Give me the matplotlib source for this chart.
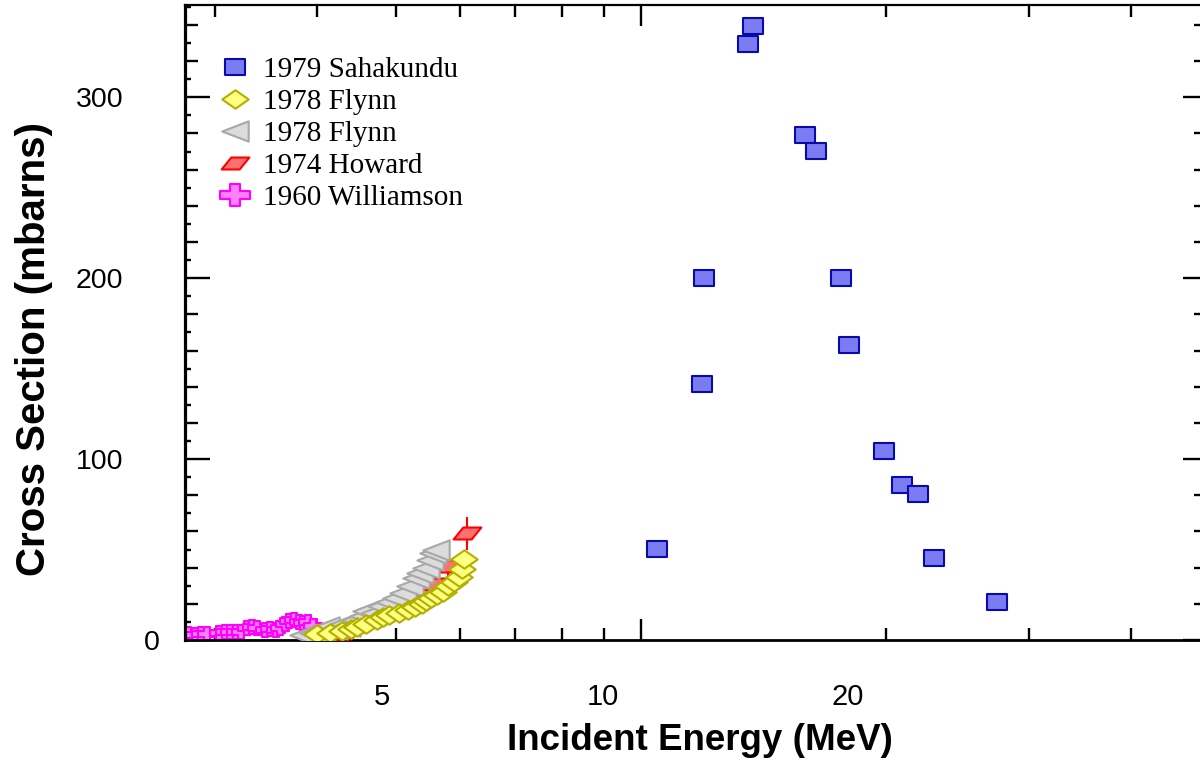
import matplotlib
matplotlib.use('Agg')
import matplotlib.pyplot as plt
from matplotlib.path import Path
from matplotlib.ticker import FixedLocator, NullLocator, NullFormatter
from matplotlib import font_manager as fm

# ---------------- data ----------------
sah_E = [10.46, 11.88, 11.95, 13.53, 13.72, 15.91, 16.41, 17.61, 18.01, 19.89, 20.92, 21.89, 22.91, 27.37]
sah_sig = [50.3, 141.4, 200.0, 329.3, 339.2, 279.0, 270.2, 200.0, 163.0, 104.4, 85.6, 80.7, 45.3, 21.0]

fly1_E = [4.00, 4.15, 4.29, 4.40, 4.48, 4.60, 4.74, 4.82, 4.91, 5.05, 5.17, 5.28, 5.38, 5.45, 5.53,
          5.62, 5.71, 5.80, 5.90, 5.98, 6.03, 6.06]
fly1_sig = [3.3, 4.0, 5.0, 6.0, 7.0, 9.0, 11.0, 12.5, 14.0, 15.0, 16.5, 18.0, 20.0, 21.5, 23.0,
            25.0, 26.5, 30.0, 32.0, 35.0, 39.0, 45.0]

fly2_E = [3.85, 3.95, 4.05, 4.10, 4.20, 4.30, 4.35, 4.45, 4.55, 4.60, 4.70, 4.80, 4.90, 5.00,
          5.10, 5.20, 5.30, 5.35, 5.45, 5.50, 5.55, 5.60]
fly2_sig = [3.0, 4.0, 5.0, 7.0, 6.0, 9.0, 8.0, 11.0, 13.0, 16.0, 15.0, 19.0, 21.0, 23.0,
            26.0, 30.0, 34.0, 37.0, 40.0, 44.0, 48.0, 50.0]

how_E = [4.17, 4.35, 4.54, 4.74, 4.95, 5.16, 5.53, 5.79, 6.11]
how_sig = [2.0, 4.0, 8.0, 12.0, 17.0, 24.0, 31.0, 41.0, 59.0]
how_err = [0.5, 0.8, 1.0, 1.5, 2.0, 3.0, 4.0, 6.0, 9.0]

wil_E = [2.78, 2.83, 2.88, 2.93, 3.03, 3.08, 3.13, 3.18, 3.23, 3.28, 3.33, 3.38, 3.45, 3.50,
         3.56, 3.60, 3.65, 3.70, 3.75, 3.80, 3.85, 3.90, 3.95]
wil_sig = [3.3, 3.0, 3.3, 3.1, 4.0, 4.4, 4.2, 4.5, 4.6, 6.5, 7.2, 6.8, 5.5, 6.0,
           5.8, 6.5, 9.0, 10.5, 11.0, 10.0, 9.5, 10.0, 8.0]

labels = ['1979 Sahakundu', '1978 Flynn', '1978 Flynn', '1974 Howard', '1960 Williamson']

x_minor_ticks = [3, 4, 5, 6, 7, 8, 9, 20, 30, 40]
x_major_ticks = [10]
x_label_pos = [4.806, 8.982, 17.96]
x_label_txt = ['5', '10', '20']

y_major = [0, 100, 200, 300]
y_major_lab = ['', '100', '200', '300']
y_minor20 = [v for v in range(20, 360, 20) if v % 100 != 0]
y_minor10 = [v for v in range(10, 360, 20)]

# ---------------- markers ----------------
def poly(v):
    return Path(v + [v[0]], closed=True)

m_rect = poly([(-1, -0.76), (1, -0.76), (1, 0.76), (-1, 0.76)])
m_diam = poly([(-1, 0), (0, -0.7), (1, 0), (0, 0.7)])
m_tri = poly([(-1, 0), (1, 0.77), (1, -0.77)])
m_para = poly([(-1, -0.43), (0.3, -0.43), (1, 0.43), (-0.3, 0.43)])
a, tx, ty = 0.76, 0.34, 0.28
m_cross = poly([(-tx, -a), (tx, -a), (tx, -ty), (1, -ty), (1, ty), (tx, ty), (tx, a),
                (-tx, a), (-tx, ty), (-1, ty), (-1, -ty), (-tx, -ty)])

# ---------------- fonts ----------------
names = {f.name for f in fm.fontManager.ttflist}
narrow = 'Liberation Sans Narrow' in names

fig = plt.figure(figsize=(12, 7.62), dpi=100)
ax = fig.add_axes([185 / 1200, 122 / 762, 1015 / 1200, 635 / 762])
ax.set_xscale('log')
ax.set_xlim(2.754, 48.6)
ax.set_ylim(0, 351)

mew = 1.5
l_wil, = ax.plot(wil_E, wil_sig, ls='none', marker=m_cross, ms=13, mfc='#ff80ff', mec='#ff00ff',
                 mew=mew, label=labels[4], zorder=2)
ax.errorbar(how_E, how_sig, yerr=how_err, fmt='none', ecolor='#ff0000', elinewidth=1.5,
            capsize=0, zorder=2.5)
l_how, = ax.plot(how_E, how_sig, ls='none', marker=m_para, ms=20, mfc='#ff7070', mec='#ff0000',
                 mew=mew, label=labels[3], zorder=2.6)
l_fl2, = ax.plot(fly2_E, fly2_sig, ls='none', marker=m_tri, ms=19, mfc='#dcdcdc', mec='#a8a8a8',
                 mew=mew, label=labels[2], zorder=3)
l_fl1, = ax.plot(fly1_E, fly1_sig, ls='none', marker=m_diam, ms=19, mfc='#ffff80', mec='#b0b000',
                 mew=mew, label=labels[1], zorder=4)
l_sah, = ax.plot(sah_E, sah_sig, ls='none', marker=m_rect, ms=14.5, mfc='#7b7bf2', mec='#0a0aa8',
                 mew=mew, label=labels[0], zorder=5)

# spines
ax.spines['right'].set_visible(False)
ax.spines['left'].set_linewidth(2.3)
ax.spines['bottom'].set_linewidth(2.0)
ax.spines['top'].set_linewidth(1.6)

# x ticks
ax.xaxis.set_major_locator(FixedLocator(x_major_ticks))
ax.xaxis.set_minor_locator(FixedLocator(x_minor_ticks))
ax.xaxis.set_major_formatter(NullFormatter())
ax.xaxis.set_minor_formatter(NullFormatter())
ax.tick_params(axis='x', which='major', direction='in', length=15, width=1.7, top=True, bottom=True)
ax.tick_params(axis='x', which='minor', direction='in', length=8.3, width=1.7, top=True, bottom=True)

secx = ax.secondary_xaxis('bottom')
secx.set_xticks(x_label_pos, labels=x_label_txt)
secx.xaxis.set_minor_locator(NullLocator())
secx.tick_params(which='both', length=0, pad=31)
for s in secx.spines.values():
    s.set_visible(False)
if narrow:
    xfont = dict(family='Liberation Sans Narrow', size=25)
else:
    xfont = dict(family='Liberation Sans', size=21)
for t in secx.get_xticklabels():
    t.set_fontfamily(xfont['family'])
    t.set_fontsize(xfont['size'])

# y ticks (left)
ax.set_yticks(y_major, labels=y_major_lab)
ax.yaxis.set_minor_locator(FixedLocator(y_minor20))
ax.tick_params(axis='y', which='major', direction='in', length=18, width=1.7, right=False,
               pad=44.5, labelsize=20.5)
ax.tick_params(axis='y', which='minor', direction='in', length=9.4, width=1.7, right=False)
for t in ax.get_yticklabels():
    t.set_fontfamily('Liberation Sans')

secl = ax.secondary_yaxis('left')
secl.set_yticks([0], labels=['0'])
secl.yaxis.set_minor_locator(FixedLocator(y_minor10))
secl.tick_params(which='major', direction='in', length=0, pad=18.5, labelsize=20.5)
secl.tick_params(which='minor', direction='in', length=4.3, width=1.7)
for s in secl.spines.values():
    s.set_visible(False)
for t in secl.get_yticklabels():
    t.set_fontfamily('Liberation Sans')

secr = ax.secondary_yaxis('right')
secr.set_yticks(y_major, labels=['', '', '', ''])
secr.yaxis.set_minor_locator(FixedLocator(y_minor20))
secr.tick_params(which='major', direction='in', length=12, width=1.7)
secr.tick_params(which='minor', direction='in', length=4.3, width=1.7)
for s in secr.spines.values():
    s.set_visible(False)

# axis labels
ax.set_xlabel('Incident Energy (MeV)', fontsize=26.5, fontweight='bold', family='Liberation Sans')
ax.set_ylabel('Cross Section (mbarns)', fontsize=29, fontweight='bold', family='Liberation Sans')
ax.xaxis.set_label_coords(0.5074, -0.131)
ax.yaxis.set_label_coords(-0.130, 0.458)

# legend
leg = ax.legend(handles=[l_sah, l_fl1, l_fl2, l_how, l_wil], loc='upper left',
                bbox_to_anchor=(0.0345, 0.918), borderaxespad=0, borderpad=0, frameon=False,
                handlelength=1.0, handletextpad=0.48, labelspacing=0.19,
                prop=dict(family='Liberation Serif', size=21))
leg.legend_handles[4].set_markersize(21)

fig.savefig('out.png', dpi=100)
